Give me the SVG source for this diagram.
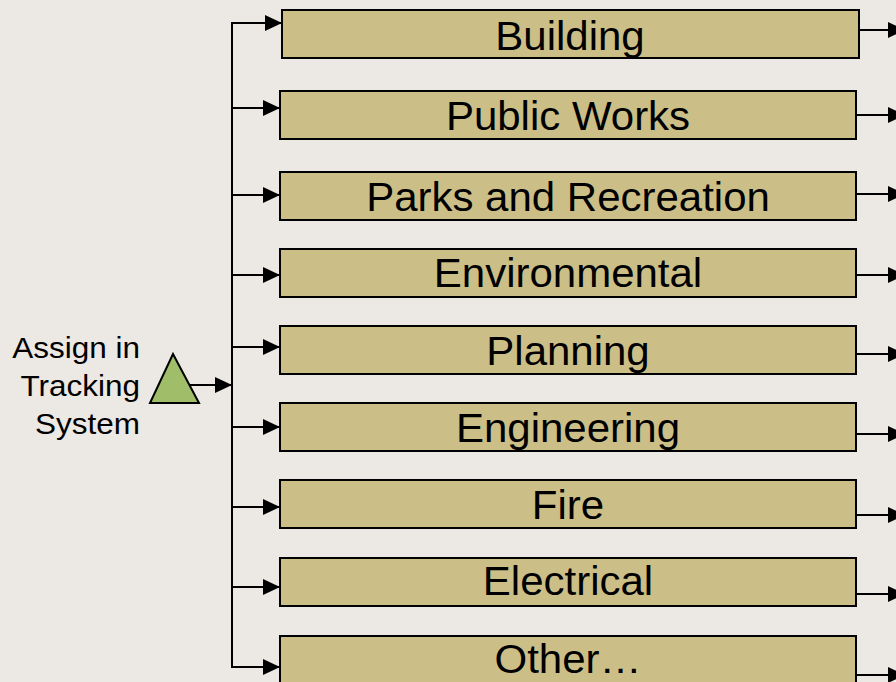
<svg xmlns="http://www.w3.org/2000/svg" width="896" height="682" viewBox="0 0 896 682">
<defs>
<marker id="ah" markerUnits="userSpaceOnUse" markerWidth="17" markerHeight="17" refX="17" refY="8.5" orient="auto" viewBox="0 0 17 17">
<path d="M0,0.5 L17,8.5 L0,16.5 Z" fill="#000"/>
</marker>
<style>
.box{fill:#CBBF87;stroke:#000;stroke-width:2}
.lbl{font-family:"Liberation Sans",Arial,sans-serif;font-size:40px;fill:#000;text-anchor:middle}
.src{font-family:"Liberation Sans",Arial,sans-serif;font-size:30px;fill:#000;text-anchor:end}
.ln{stroke:#000;stroke-width:2;fill:none}
.ar{stroke:#000;stroke-width:2;fill:none;marker-end:url(#ah)}
</style>
</defs>
<rect width="896" height="682" fill="#ECE8E4"/>
<g id="source">
<polygon points="173,354 150,403 199,403" fill="#A0BE69" stroke="#000" stroke-width="2"/>
<text class="src" transform="translate(140 358) scale(1.05 1)">Assign in</text>
<text class="src" transform="translate(140 396) scale(1.05 1)">Tracking</text>
<text class="src" transform="translate(140 434) scale(1.05 1)">System</text>
</g>
<g id="connectors">
<line class="ar" x1="190" y1="385" x2="232" y2="385"/>
<polyline class="ln" points="281,23 232,23 232,667 280,667"/>
<line class="ar" x1="232" y1="23" x2="282" y2="23"/>
<line class="ar" x1="232" y1="108" x2="280" y2="108"/>
<line class="ar" x1="232" y1="195" x2="280" y2="195"/>
<line class="ar" x1="232" y1="275" x2="280" y2="275"/>
<line class="ar" x1="232" y1="347" x2="280" y2="347"/>
<line class="ar" x1="232" y1="427" x2="280" y2="427"/>
<line class="ar" x1="232" y1="507" x2="280" y2="507"/>
<line class="ar" x1="232" y1="587" x2="280" y2="587"/>
<line class="ar" x1="232" y1="667" x2="280" y2="667"/>
<line class="ar" x1="859" y1="30" x2="905" y2="30"/>
<line class="ar" x1="856" y1="115" x2="905" y2="115"/>
<line class="ar" x1="856" y1="194" x2="905" y2="194"/>
<line class="ar" x1="856" y1="275" x2="905" y2="275"/>
<line class="ar" x1="856" y1="354" x2="905" y2="354"/>
<line class="ar" x1="856" y1="434" x2="905" y2="434"/>
<line class="ar" x1="856" y1="515" x2="905" y2="515"/>
<line class="ar" x1="856" y1="594" x2="905" y2="594"/>
<line class="ar" x1="856" y1="675" x2="905" y2="675"/>
</g>
<g id="building"><rect class="box" x="282" y="10" width="577" height="48"/><text class="lbl" transform="translate(570 50) scale(1.05 1)">Building</text></g>
<g id="public-works"><rect class="box" x="280" y="91" width="576" height="48"/><text class="lbl" transform="translate(568 130) scale(1.05 1)">Public Works</text></g>
<g id="parks"><rect class="box" x="280" y="172" width="576" height="48"/><text class="lbl" transform="translate(568 211) scale(1.05 1)">Parks and Recreation</text></g>
<g id="environmental"><rect class="box" x="280" y="249" width="576" height="48"/><text class="lbl" transform="translate(568 287) scale(1.05 1)">Environmental</text></g>
<g id="planning"><rect class="box" x="280" y="326" width="576" height="48"/><text class="lbl" transform="translate(568 365) scale(1.05 1)">Planning</text></g>
<g id="engineering"><rect class="box" x="280" y="403" width="576" height="48"/><text class="lbl" transform="translate(568 442) scale(1.05 1)">Engineering</text></g>
<g id="fire"><rect class="box" x="280" y="480" width="576" height="48"/><text class="lbl" transform="translate(568 519) scale(1.05 1)">Fire</text></g>
<g id="electrical"><rect class="box" x="280" y="558" width="576" height="48"/><text class="lbl" transform="translate(568 595) scale(1.05 1)">Electrical</text></g>
<g id="other"><rect class="box" x="280" y="636" width="576" height="48"/><text class="lbl" transform="translate(568 673) scale(1.05 1)">Other…</text></g>
</svg>
